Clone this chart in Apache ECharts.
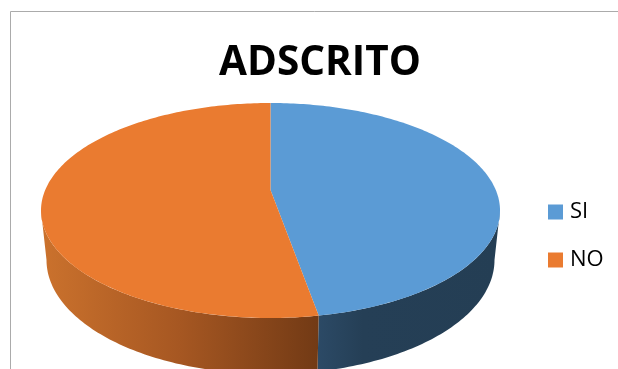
<!DOCTYPE html>
<html>
<head>
<meta charset="utf-8">
<style>html,body{margin:0;padding:0;background:#fff;overflow:hidden}#c{width:618px;height:369px}</style>
<script src="https://cdn.jsdelivr.net/npm/echarts@6/dist/echarts.min.js"></script>
</head>
<body>
<div id="c"></div>
<script>
const chartTitle = 'ADSCRITO';
const categories = ['SI', 'NO'];
const values = [17, 19];
const topColors = ['#5B9BD5', '#EA7B30'];
const wallStops = [
  [[0, '#2C4A66'], [0.25, '#253F56'], [1, '#243E54']],
  [[0, '#CB722D'], [0.5, '#A65722'], [1, '#723A15']]
];

// 3D disc projection
const cx = 270.5, topCy = 210.5, topRy = 107.5, topRx = 229.5;
const apexY = 190, botCy = 260, botRy = 114, botRx = 224;
const yMin = topCy - topRy, yMax = topCy + topRy;
const persp = (2 * apexY - yMin - yMax) / (yMax - yMin);
const slope = yMax * (1 + persp) - apexY;
const kx = topRx * Math.sqrt(1 - persp * persp);
const silhouette = Math.acos(-persp); // clockwise angle from the bottom of the rim to its widest point
function rim(theta) {
  const X = Math.sin(theta), Y = -Math.cos(theta);
  const d = 1 + persp * Y;
  return [cx + kx * X / d, (slope * Y + apexY) / d];
}
function lower(p) {
  return [cx + (p[0] - cx) * botRx / topRx, botCy + (p[1] - topCy) * botRy / topRy];
}
function arcPoints(a, b) {
  const n = Math.max(2, Math.ceil(Math.abs(b - a) / (Math.PI / 180)));
  const out = [];
  for (let i = 0; i <= n; i++) out.push(rim(a + (b - a) * i / n));
  return out;
}

const total = values.reduce((s, v) => s + v, 0);
let acc = 0;
const series = categories.map((name, i) => {
  const start = acc / total * 2 * Math.PI;
  acc += values[i];
  const end = acc / total * 2 * Math.PI;
  return {
    type: 'custom', name, coordinateSystem: 'none', silent: true,
    itemStyle: { color: topColors[i] },
    data: [values[i]],
    renderItem() {
      const children = [];
      const from = Math.max(start, Math.PI - silhouette);
      const to = Math.min(end, Math.PI + silhouette);
      if (to > from) {
        const upper = arcPoints(from, to);
        const pts = upper.concat(upper.map(lower).reverse());
        const xs = pts.map(p => p[0]);
        const loX = Math.min.apply(null, xs), hiX = Math.max.apply(null, xs);
        const stops = wallStops[i].map(s => ({ offset: s[0], color: s[1] }));
        children.push({
          type: 'polygon', shape: { points: pts },
          style: { fill: new echarts.graphic.LinearGradient(loX, 0, hiX, 0, stops, true) }
        });
      }
      const top = [[cx, apexY]].concat(arcPoints(start, end));
      children.push({ type: 'polygon', shape: { points: top }, style: { fill: topColors[i] } });
      return { type: 'group', children };
    }
  };
});

const chart = echarts.init(document.getElementById('c'), null, { renderer: 'canvas' });
chart.setOption({
  animation: false,
  backgroundColor: '#fff',
  title: {
    text: chartTitle, left: 320, top: 43, textAlign: 'center', padding: 0,
    textStyle: { fontFamily: 'Open Sans', fontWeight: 'bold', fontSize: 40.5, color: '#000' }
  },
  legend: {
    data: categories, orient: 'vertical', left: 543, top: 196, icon: 'rect',
    itemWidth: 15, itemHeight: 15, itemGap: 26, selectedMode: false,
    textStyle: { fontFamily: 'Open Sans', fontSize: 22, color: '#000', padding: [0, 0, 0, 2] }
  },
  graphic: [{
    type: 'polyline', silent: true,
    shape: { points: [[10.5, 369], [10.5, 11.5], [618, 11.5]] },
    style: { stroke: '#ABABAB', lineWidth: 1, fill: null }
  }],
  series
});
</script>
</body>
</html>
